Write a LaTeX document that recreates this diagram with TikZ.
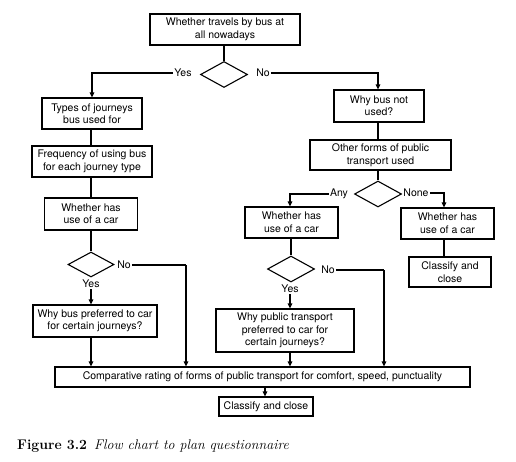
\documentclass[tikz,border=0pt]{standalone}
\usepackage{fontspec}
\setsansfont{TeX Gyre Heros}
\usetikzlibrary{shapes.geometric,arrows.meta}
\begin{document}
\begin{tikzpicture}[x=1pt,y=-1pt,
  every node/.style={font=\sffamily\fontsize{10.5}{12.5}\selectfont},
  box/.style={draw,line width=1.2pt,inner sep=0pt,align=center,minimum height=#1},
  box/.default=31pt,
  dia/.style={draw,diamond,line width=1.1pt,inner sep=0pt,minimum width=47pt,minimum height=26pt},
  lbl/.style={inner sep=1pt},
  line/.style={line width=1.2pt},
  arr/.style={line width=1.2pt,-{Triangle[length=5pt,width=4.5pt]}}]
\useasboundingbox (0,0) rectangle (516,462);
% left branch
\node[box, minimum width=150pt] (n1) at (225,29.5) {Whether travels by bus at\\all nowadays};
\node[dia] (d1) at (224,74.5) {};
\node[lbl] (yes1) at (183,73) {Yes};
\node[lbl] (no1) at (263,73) {No};
\node[box, minimum width=100pt] (n2) at (92,113.5) {Types of journeys\\bus used for};
\node[box, minimum width=120pt] (n4) at (92,161.5) {Frequency of using bus\\for each journey type};
\node[box=32pt, minimum width=93pt] (n5) at (91,214) {Whether has\\use of a car};
\node[dia, minimum width=46pt, minimum height=25pt] (d2) at (91,264.5) {};
\node[lbl] (no2) at (124,265) {No};
\node[lbl] (yes2) at (91,284) {Yes};
\node[box=32pt, minimum width=124pt] (n6) at (95,321) {Why bus preferred to car\\for certain journeys?};
\node[box=20pt, minimum width=415pt] (n7) at (262.5,377) {Comparative rating of forms of public transport for comfort, speed, punctuality};
\node[box=19pt, minimum width=94pt] (n8) at (266,406.5) {Classify and close};
% right branch
\node[box=32pt, minimum width=90pt] (n3) at (379,106) {Why bus not\\used?};
\node[box=30pt, minimum width=141pt] (n9) at (380.5,155) {Other forms of public\\transport used};
\node[dia] (d3) at (378,194) {};
\node[lbl] (any) at (339,194) {Any};
\node[lbl] (none) at (416,193) {None};
\node[box, minimum width=93pt] (n10) at (291.5,222.5) {Whether has\\use of a car};
\node[box, minimum width=93pt] (n11) at (447.5,223.5) {Whether has\\use of a car};
\node[box=30pt, minimum width=82pt] (n12) at (450,272) {Classify and\\close};
\node[dia] (d4) at (291,269) {};
\node[lbl] (no3) at (328,270) {No};
\node[lbl] (yes3) at (290,289) {Yes};
\node[box=43pt, minimum width=138pt] (n13) at (285,330.5) {Why public transport\\preferred to car for\\certain journeys?};
% coordinates
\coordinate (c1) at (186,265);
\coordinate (c2) at (384,270);
\coordinate (c3) at (290,200);
\coordinate (c4) at (444,200);
% connectors
\draw[line] (n1.south -| d1.north) -- (d1.north);
\draw[arr] (yes1.west) -| (n2.north);
\draw[arr] (no1.east) -| (n3.north -| 378,0);
\draw[line] (n2.south -| 91,0) -- (n4.north -| 91,0);
\draw[line] (n4.south -| 91,0) -- (n5.north);
\draw[line] (n5.south) -- (d2.north);
\draw[arr] (yes2.south) -- (yes2.south |- n6.north);
\draw[line] (no2.east) -- (c1);
\draw[arr] (c1) -- (c1 |- n7.north);
\draw[arr] (n6.south -| d2.center) -- (d2.center |- n7.north);
\draw[arr] (n7.south -| 265,0) -- (n8.north -| 265,0);
\draw[line] (n3.south -| 378,0) -- (n9.north -| 378,0);
\draw[line] (n9.south -| d3.north) -- (d3.north);
\draw[arr] (any.west) -| (c3 |- n10.north);
\draw[arr] (none.east) -| (c4 |- n11.north);
\draw[line] (c4 |- n11.south) -- (c4 |- n12.north);
\draw[line] (n10.south -| d4.north) -- (d4.north);
\draw[arr] (yes3.south) -- (yes3.south |- n13.north);
\draw[line] (no3.east) -- (c2);
\draw[arr] (c2) -- (c2 |- n7.north);
\draw[arr] (n13.south -| yes3.south) -- (yes3.south |- n7.north);
% caption
\node[anchor=base west, inner sep=0pt, font=\rmfamily\fontsize{14}{16}\selectfont] (cap) at (17,449) {\textbf{Figure 3.2}\enspace\textit{Flow chart to plan questionnaire}};
\end{tikzpicture}
\end{document}
